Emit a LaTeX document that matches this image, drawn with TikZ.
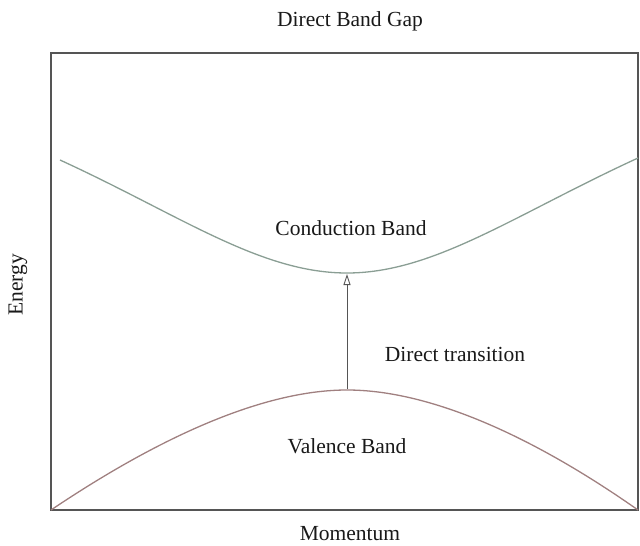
\documentclass[tikz,border=0pt]{standalone}
\usepackage{fontspec}
\setmainfont{Liberation Serif}
\usepackage{xcolor}
\usetikzlibrary{arrows.meta}
\definecolor{framegray}{RGB}{85,85,85}
\definecolor{condgray}{RGB}{138,158,148}
\definecolor{valgray}{RGB}{160,128,128}
\definecolor{txtgray}{RGB}{25,25,25}
\tikzset{
  lbl/.style={inner sep=0pt, text=txtgray, font=\fontsize{21.5}{26}\selectfont},
  frm/.style={draw=framegray, line width=2pt},
  cband/.style={draw=condgray, line width=1.3pt},
  vband/.style={draw=valgray, line width=1.3pt},
  arr/.style={-{Triangle[open, length=11pt, width=7pt]}, draw=framegray, line width=0.9pt},
}

\begin{document}
\begin{tikzpicture}[x=1pt, y=-1pt]
  \useasboundingbox (0,0) rectangle (640,546);
  \draw[frm] (51,53) rectangle (638,510);
  % bands
  \draw[cband] (60,160) .. controls (180,215) and (260,273) .. (347,273)
                        .. controls (434,273) and (514,215) .. (638,158);
  \draw[vband] (51,510) .. controls (170,430) and (270,390) .. (347,390)
                        .. controls (424,390) and (524,430) .. (638,510);
  \coordinate (vtop) at (347,389);
  \coordinate (cbot) at (347,274);
  \draw[arr] (vtop) -- (cbot);
  % labels
  \node[lbl] (title) at (350,21) {Direct Band Gap};
  \node[lbl] (cond) at (351,228) {Conduction Band};
  \node[lbl] (trans) at (455,354) {Direct transition};
  \node[lbl] (val) at (347,446) {Valence Band};
  \node[lbl] (mom) at (350,534) {Momentum};
  \node[lbl, rotate=90] (en) at (18,285) {Energy};
\end{tikzpicture}
\end{document}
